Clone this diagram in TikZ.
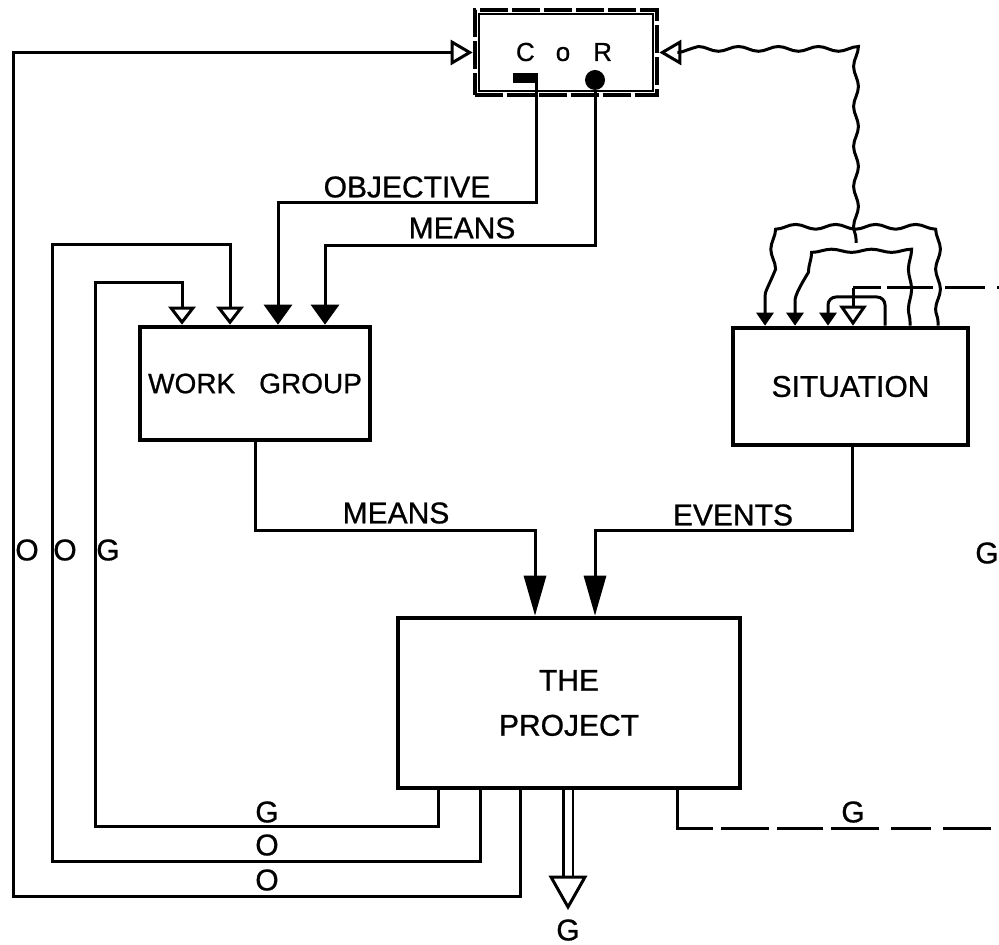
\documentclass[tikz,border=0pt]{standalone}
\usepackage{fontspec}
\setmainfont{Liberation Sans}[FakeBold=0.8]
\usetikzlibrary{arrows.meta,decorations.pathmorphing}

\tikzset{
  box/.style={draw, line width=2.3pt, inner sep=0pt, font=\fontsize{15}{22.5}\selectfont},
  conn/.style={line width=1.5pt},
  wavy/.style={conn, decorate, decoration={snake, amplitude=1.2pt, segment length=20pt, pre length=2pt, post length=8pt}},
  lbl/.style={inner sep=0pt, font=\fontsize{15}{18}\selectfont},
  gdash/.style={conn, dash pattern=on 24pt off 5pt},
  bighead/.style={-{Triangle[length=10pt,width=14pt]}},
  longhead/.style={-{Triangle[length=20pt,width=11pt]}},
  openhead/.style={-{Triangle[open,length=9pt,width=13.5pt]}},
  smallhead/.style={-{Triangle[length=6.5pt,width=8.5pt]}},
}

\begin{document}
\begin{tikzpicture}[x=0.5pt, y=-0.5pt, >=Stealth]
    \useasboundingbox (0,0) rectangle (999,945);

    \node[box, dash pattern=on 14pt off 2pt, minimum width=91pt, minimum height=42.5pt] (cor) at (566,52.5) {};
    \draw[line width=1pt] ([shift={(3pt,-3pt)}]cor.north west) rectangle ([shift={(-3pt,3pt)}]cor.south east);
    \node[lbl, font=\fontsize{13}{15}\selectfont] (corname) at (564,52) {C\hspace{10.5pt}o\hspace{11.5pt}R};
    \node[fill, minimum width=12.5pt, minimum height=5pt, inner sep=0pt] (obj) at (525,78) {};
    \node[circle, fill, minimum size=10pt, inner sep=0pt] (mns) at (595,80) {};

    \node[box, minimum width=115pt, minimum height=56.5pt, font=\fontsize{14}{16}\selectfont] (wg) at (255,383.5) {WORK\hspace{12pt}GROUP};
    \node[box, minimum width=117.5pt, minimum height=58.5pt] (sit) at (850.5,386.5) {SITUATION};
    \node[box, minimum width=171pt, minimum height=85pt, align=center] (proj) at (569,703) {THE\\PROJECT};

    % from C o R to the work group
    \draw[conn, bighead] ([xshift=-0.75pt]obj.south east) |- (278,203) -- (278,0 |- wg.north);
    \draw[conn, bighead] (mns.south) |- (325,246) -- (325,0 |- wg.north);
    \node[lbl] (objlbl) at (407,187) {OBJECTIVE};
    \node[lbl] (mnslbl) at (462,228) {MEANS};

    % into the project
    \draw[conn, longhead] (255,0 |- wg.south) |- (535,530) -- (535,0 |- proj.north);
    \draw[conn, longhead] (852,0 |- sit.south) |- (595,530) -- (595,0 |- proj.north);
    \node[lbl] (wgout) at (396,513) {MEANS};
    \node[lbl] (sitout) at (733,515) {EVENTS};

    % feedback loops
    \draw[conn, -{Triangle[open,length=11pt,width=12.5pt]}] (520,0 |- proj.south) |- (13,896) |- (cor.west);
    \draw[conn, openhead] (480,0 |- proj.south) |- (52,861) |- (230,245) -- (230,0 |- wg.north);
    \draw[conn, openhead] (438,0 |- proj.south) |- (95,826) |- (182,283) -- (182,0 |- wg.north);
    \node[lbl] (o1) at (27,550) {O};
    \node[lbl] (o2) at (65,550) {O};
    \node[lbl] (g1) at (108,550) {G};
    \node[lbl] (g2) at (267,812) {G};
    \node[lbl] (o3) at (267,845) {O};
    \node[lbl] (o4) at (267,880) {O};

    % situation
    \coordinate (sj) at (856,243);
    \coordinate (la) at (765,243);
    \coordinate (ra) at (938,243);
    \draw[wavy, -{Triangle[open,length=11pt,width=12.5pt]}] (sj) |- (cor.east);
    \draw[wavy, smallhead] (ra |- sit.north) -- (ra) -- (la) -- (la |- sit.north);
    \draw[wavy, decoration={amplitude=0.8pt}, smallhead] (910,0 |- sit.north) |- (795,268) -- (795,0 |- sit.north);
    \draw[conn, rounded corners=4pt, smallhead] (885,0 |- sit.north) |- (828,297) -- (828,0 |- sit.north);
    \coordinate (sin) at (1010,288);
    \draw[conn, dash pattern=on 14pt off 3pt on 23pt off 6pt on 20pt off 6pt on 20pt off 6pt] (853,288) -- (sin);
    \draw[conn, -{Triangle[open,length=10pt,width=13.5pt]}] (853,288) -- (853,0 |- sit.north);

    % goals out
    \coordinate (gr) at (1010,828);
    \draw[conn, dash pattern=on 37pt off 4pt on 24pt off 4pt on 23pt off 4pt on 24pt off 6pt on 20pt off 6pt on 24pt off 6pt on 24pt off 5pt] (677,0 |- proj.south) |- (gr);
    \node[lbl] (g3) at (853,812) {G};
    \node[lbl] (g4) at (987,553) {G};
    \coordinate (out) at (568,877);
    \draw[line width=1.3pt, double, double distance=3.5pt] (568,0 |- proj.south) -- (out);
    \draw[conn, fill=white] (out) ++(-17,0) -- ++(34,0) -- (568,907) -- cycle;
    \node[lbl] (g5) at (568,930) {G};
\end{tikzpicture}
\end{document}
